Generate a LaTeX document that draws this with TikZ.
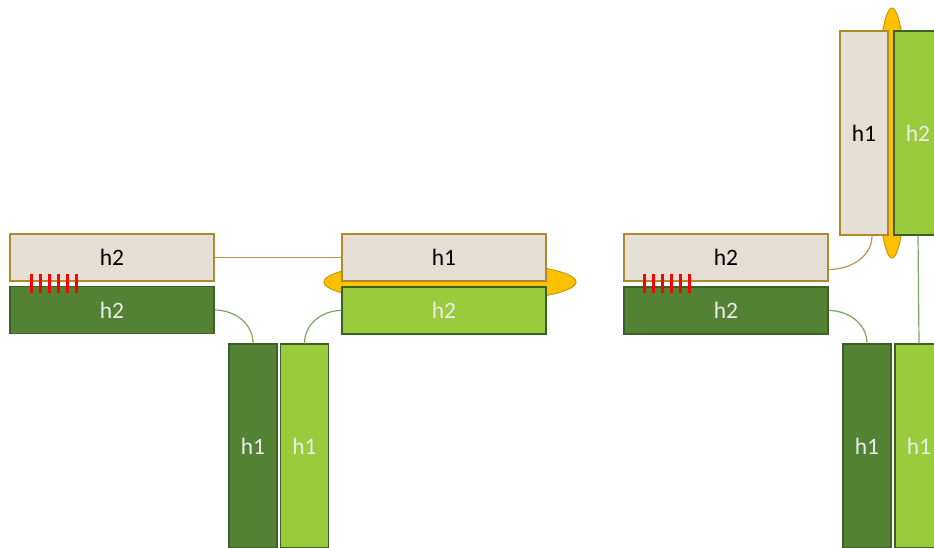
\documentclass[tikz,border=0pt]{standalone}
\usepackage{fontspec}
\setmainfont{Carlito}
\definecolor{beigefill}{HTML}{E4DED4}
\definecolor{beigeline}{HTML}{AD8A2C}
\definecolor{darkfill}{HTML}{548235}
\definecolor{greenline}{HTML}{3B6124}
\definecolor{lightfill}{HTML}{9ACB3C}
\definecolor{linkgreen}{HTML}{7FA462}
\definecolor{linkbeige}{HTML}{B89550}
\definecolor{halofill}{HTML}{FFC000}
\definecolor{haloline}{HTML}{C49A00}
\begin{document}
\begin{tikzpicture}[x=1pt, y=-1pt,
  box/.style={inner sep=0pt, line width=1.3pt, font=\fontsize{23.5}{27}\selectfont},
  wide/.style={box, minimum width=204pt, minimum height=47pt},
  tall/.style={box, minimum width=48pt, minimum height=204pt},
  beige/.style={fill=beigefill, draw=beigeline, text=black},
  dark/.style={fill=darkfill, draw=greenline, text=white!92!black},
  light/.style={fill=lightfill, draw=greenline, text=white!92!black},
  halo/.style={fill=halofill, draw=haloline, line width=1pt},
  redtick/.style={draw=red, line width=3pt},
  greenlink/.style={draw=linkgreen, line width=1.2pt},
  beigelink/.style={draw=linkbeige, line width=1.2pt}]
  \useasboundingbox (0,0) rectangle (934,547);
  \clip (0,0) rectangle (934,547);
  % orange halos behind the pairs
  \draw[halo] (450,282) ellipse [x radius=126, y radius=21];
  \draw[halo] (892,133) ellipse [x radius=16, y radius=125];
  % left group
  \node[wide, beige] (lb2) at (112,257.5) {h2};
  \node[wide, dark] (ld2) at (112,310) {h2};
  \node[wide, beige] (lb1) at (444,257.5) {h1};
  \node[wide, light] (lg2) at (444,310.5) {h2};
  \node[tall, dark] (ld1) at (253,446) {h1};
  \node[tall, light] (lg1) at (304.5,446) {h1};
  \foreach \x in {31,40,...,76}
    \draw[redtick] (\x,274) -- (\x,293);
  \draw[beigelink] (lb2.east) -- (lb1.west);
  \draw[greenlink] (ld2.east) to[out=0, in=90] (ld1.north);
  \draw[greenlink] (lg2.west) to[out=180, in=90] (lg1.north);
  % right group
  \node[wide, beige] (rb2) at (726,257.5) {h2};
  \node[wide, dark] (rd2) at (726,310.5) {h2};
  \node[tall, beige] (rb1) at (864,133) {h1};
  \node[tall, light] (rg2) at (918,133) {h2};
  \node[tall, dark] (rd1) at (867,446) {h1};
  \node[tall, light] (rg1) at (919,446) {h1};
  \foreach \x in {644,653,...,689}
    \draw[redtick] (\x,274) -- (\x,293);
  \draw[beigelink] ([yshift=-12pt]rb2.east) to[out=0, in=-90] ([xshift=8pt]rb1.south);
  \draw[greenlink] (rd2.east) to[out=0, in=90] (rd1.north);
  \draw[greenlink] (rg2.south) -- (rg1.north);
\end{tikzpicture}
\end{document}
